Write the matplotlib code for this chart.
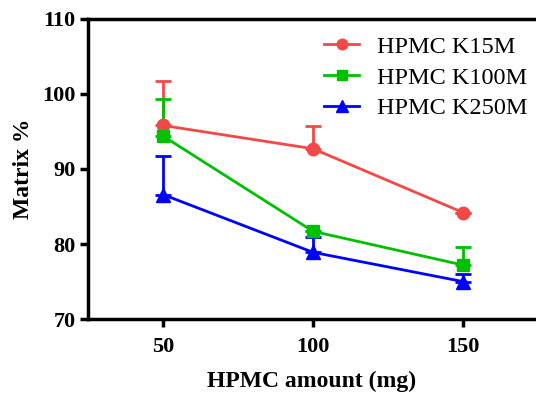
import matplotlib
matplotlib.use('Agg')
import matplotlib.pyplot as plt
from matplotlib.lines import Line2D

plt.rcParams['font.family'] = ['Liberation Serif', 'DejaVu Serif']

# Data
amount = [50, 100, 150]
k15m = [95.8, 92.7, 84.2]
k15m_err = [5.9, 3.0, 0.0]
k100m = [94.4, 81.7, 77.2]
k100m_err = [4.9, 0.0, 2.4]
k250m = [86.6, 78.9, 75.0]
k250m_err = [5.1, 2.0, 1.0]

series = [
    ('HPMC K15M', k15m, k15m_err, '#f44848', 'o', 9),
    ('HPMC K100M', k100m, k100m_err, '#00c000', 's', 8.5),
    ('HPMC K250M', k250m, k250m_err, '#0000ff', '^', 9.5),
]

fig = plt.figure(figsize=(5.36, 3.93), dpi=100)
ax = fig.add_axes([0.164, 0.188, 0.836, 0.764])

handles = []
for name, vals, err, col, mk, ms in series:
    ax.errorbar(amount, vals, yerr=[[0] * len(err), err], color=col, marker=mk,
                markersize=ms, linewidth=2, elinewidth=2, capsize=5.5,
                capthick=2)
    handles.append(Line2D([], [], color=col, marker=mk, markersize=ms * 0.85,
                          linewidth=2, label=name))

ax.set_xlim(25, 174.3)
ax.set_ylim(70, 110)
ax.set_xticks(amount)
ax.set_yticks([70, 80, 90, 100, 110])

for s in ['left', 'bottom', 'top']:
    ax.spines[s].set_linewidth(2.5)
ax.spines['right'].set_visible(False)
ax.tick_params(direction='out', length=6, width=2.5, labelsize=16, pad=3)
for lab in ax.get_xticklabels() + ax.get_yticklabels():
    lab.set_fontweight('bold')
ax.tick_params(axis='x', pad=7)

ax.set_xlabel('HPMC amount (mg)', fontsize=17, fontweight='bold', labelpad=10)
ax.set_ylabel('Matrix %', fontsize=17, fontweight='bold', labelpad=6)

ax.legend(handles=handles, loc='upper right', frameon=False, fontsize=17.5,
          handlelength=1.45, handletextpad=0.75, labelspacing=0.36,
          borderaxespad=0.3, bbox_to_anchor=(1.02, 1.0))

fig.savefig('out.png', dpi=100)
